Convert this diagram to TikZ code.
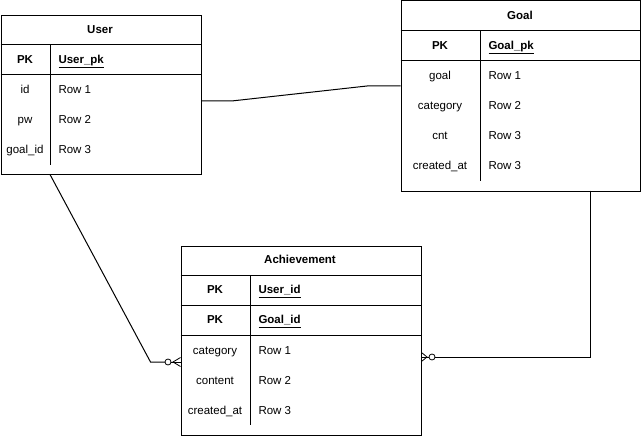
\documentclass[tikz,border=0pt]{standalone}
\usepackage{fontspec}
\setmainfont{Liberation Sans}
\begin{document}
\begin{tikzpicture}[x=1pt,y=-1pt,line width=1pt,
  tbl/.style={draw,anchor=north west,inner sep=0pt},
  txt/.style={inner sep=0pt,text height=9.4pt,text depth=1.6pt},
  ttl/.style={txt,font=\fontsize{11.5}{14}\selectfont\bfseries},
  key/.style={txt,font=\fontsize{11.5}{14}\selectfont\bfseries},
  fld/.style={txt,font=\fontsize{11.5}{14}\selectfont},
  val/.style={txt,font=\fontsize{11.5}{14}\selectfont,anchor=west},
  pkv/.style={txt,font=\fontsize{11.5}{14}\selectfont\bfseries,anchor=west},
  conn/.style={draw,line width=1pt}]
\useasboundingbox (0,0) rectangle (641,436);
% User table
\node[tbl,minimum width=200pt,minimum height=159pt] (user) at (0.5,15.5) {};
\draw (0.5,45) -- (200.5,45);
\draw (0.5,75) -- (200.5,75);
\draw (50.5,45) -- (50.5,165);
\node[ttl] (userT) at (100,30) {User};
\node[key] (userPK) at (25,60) {PK};
\node[pkv] (userPKv) at (58,60) {\underline{User\_pk}};
\node[fld] (userF1) at (25,90) {id};
\node[fld] (userF2) at (25,120) {pw};
\node[fld] (userF3) at (25,150) {goal\_id};
\node[val] (userV1) at (58,90) {Row 1};
\node[val] (userV2) at (58,120) {Row 2};
\node[val] (userV3) at (58,150) {Row 3};
% Goal table
\node[tbl,minimum width=239.5pt,minimum height=190pt] (goal) at (400.5,0.5) {};
\draw (400.5,31) -- (640,31);
\draw (400.5,61) -- (640,61);
\draw (480.5,31) -- (480.5,181);
\node[ttl] (goalT) at (520,16) {Goal};
\node[key] (goalPK) at (440,46) {PK};
\node[pkv] (goalPKv) at (488,46) {\underline{Goal\_pk}};
\node[fld] (goalF1) at (440,76) {goal};
\node[fld] (goalF2) at (440,106) {category};
\node[fld] (goalF3) at (440,136) {cnt};
\node[fld] (goalF4) at (440,166) {created\_at};
\node[val] (goalV1) at (488,76) {Row 1};
\node[val] (goalV2) at (488,106) {Row 2};
\node[val] (goalV3) at (488,136) {Row 3};
\node[val] (goalV4) at (488,166) {Row 3};
% Achievement table
\node[tbl,minimum width=240pt,minimum height=189.5pt] (ach) at (180.5,245.5) {};
\draw (180.5,275) -- (420.5,275);
\draw (180.5,305) -- (420.5,305);
\draw (180.5,335) -- (420.5,335);
\draw (250.5,275) -- (250.5,425);
\node[ttl] (achT) at (300,260) {Achievement};
\node[key] (achPK1) at (215,290) {PK};
\node[pkv] (achPK1v) at (258,290) {\underline{User\_id}};
\node[key] (achPK2) at (215,320) {PK};
\node[pkv] (achPK2v) at (258,320) {\underline{Goal\_id}};
\node[fld] (achF1) at (215,351) {category};
\node[fld] (achF2) at (215,381) {content};
\node[fld] (achF3) at (215,411) {created\_at};
\node[val] (achV1) at (258,351) {Row 1};
\node[val] (achV2) at (258,381) {Row 2};
\node[val] (achV3) at (258,411) {Row 3};
% connector User - Goal
\coordinate (ug1) at (user.north east |- 0,101);
\coordinate (ug2) at (goal.north west |- 0,86);
\draw[conn] (ug1) -- ++(30,0) -- (367,86) -- (ug2);
% connector User - Achievement (zero to many)
\coordinate (ua1) at (50,174.5);
\coordinate (ua2) at (ach.north west |- 0,362);
\draw[conn] (ua1) -- (150.5,362) -- (165,362);
\draw[line width=0.8pt] (168,362) circle (3);
\draw[line width=0.8pt] (ua2) -- (171,362);
\draw[line width=0.8pt] (ach.north west |- 0,357.5) -- (173,362) -- (ach.north west |- 0,366.5);
% connector Goal - Achievement (zero to many)
\coordinate (ga1) at (590.5,190.5);
\coordinate (ga2) at (ach.north east |- 0,357);
\draw[conn] (ga1) -- (590.5,357) -- (435,357);
\draw[line width=0.8pt] (432,357) circle (3);
\draw[line width=0.8pt] (ga2) -- (429,357);
\draw[line width=0.8pt] (ach.north east |- 0,352.5) -- (427,357) -- (ach.north east |- 0,361.5);
\end{tikzpicture}
\end{document}
